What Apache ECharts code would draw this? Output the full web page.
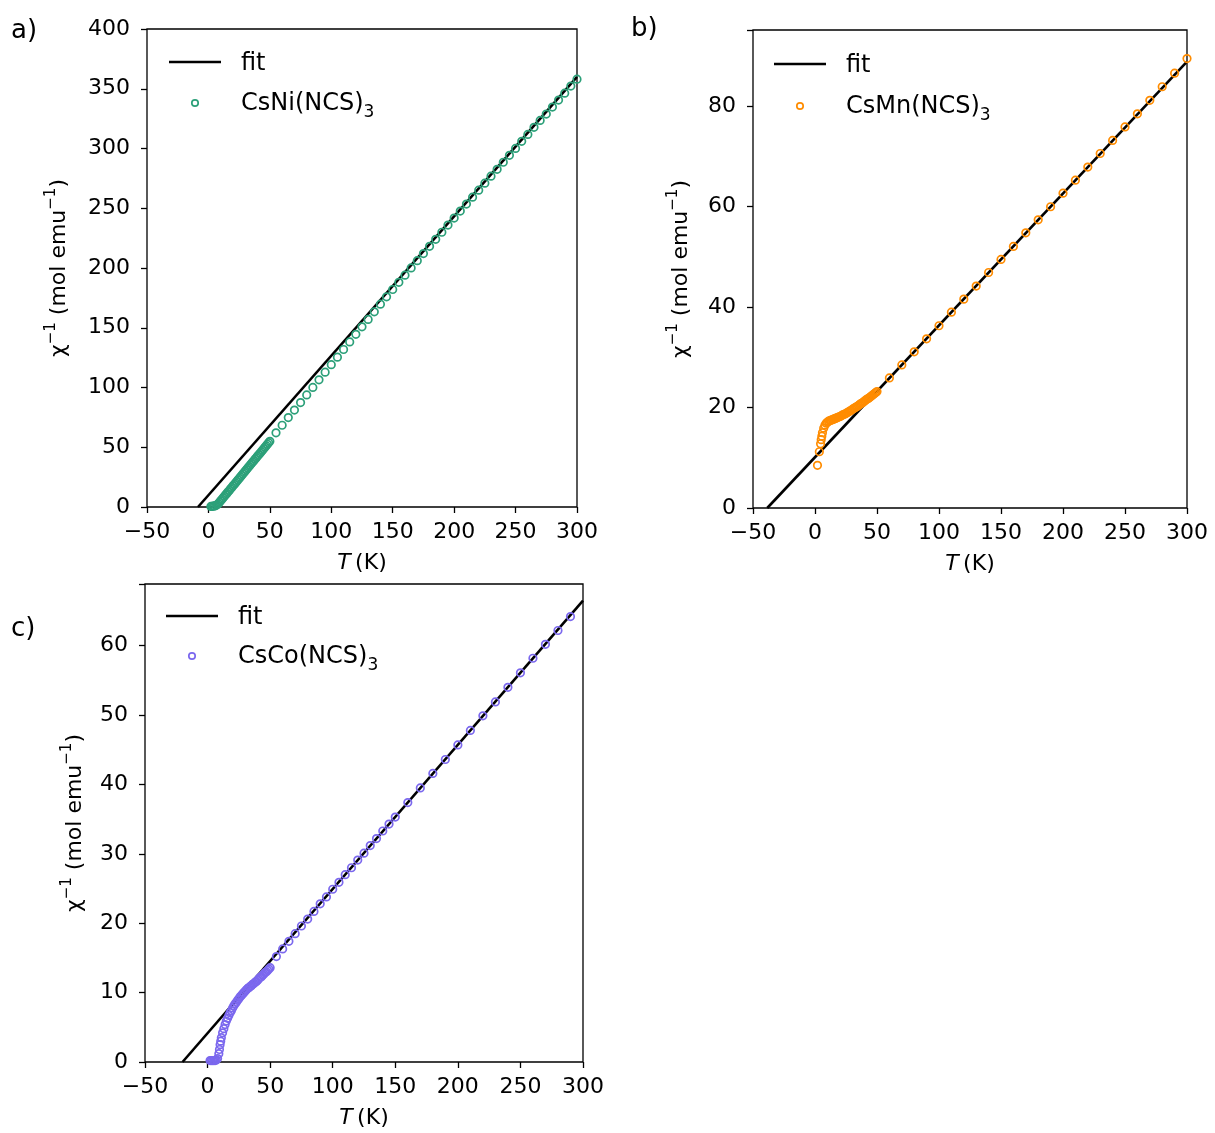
<!DOCTYPE html>
<html>
<head>
<meta charset="utf-8">
<script src="https://cdn.jsdelivr.net/npm/echarts@6/dist/echarts.min.js"></script>
<style>
  html, body { margin: 0; padding: 0; background: #fff; }
  #chart { width: 1215px; height: 1133px; }
</style>
</head>
<body>
<div id="chart"></div>
<script>
// CsNi(NCS)3 : inverse susceptibility, dense low-T part and 5 K steps above
var niLow = [[2,0.5],[3,0.6],[4,0.7],[5,0.9],[6,1.2],[7,1.8],[8,2.8],[9,4.0],[10,5.2],[11,6.4],[12,7.7],[13,8.9],[14,10.2],[15,11.4],[16,12.7],[17,13.9],[18,15.2],[19,16.4],[20,17.7],[21,18.9],[22,20.1],[23,21.4],[24,22.6],[25,23.9],[26,25.1],[27,26.4],[28,27.6],[29,28.9],[30,30.1],[31,31.3],[32,32.6],[33,33.8],[34,35.1],[35,36.3],[36,37.6],[37,38.8],[38,40.1],[39,41.3],[40,42.6],[41,43.8],[42,45.0],[43,46.3],[44,47.5],[45,48.8],[46,50.0],[47,51.3],[48,52.5],[49,53.8],[50,55.0]];
var niHigh = [[55,62.1],[60,68.4],[65,74.8],[70,81.1],[75,87.4],[80,93.8],[85,100.1],[90,106.4],[95,112.8],[100,119.1],[105,125.4],[110,131.8],[115,138.1],[120,144.5],[125,150.8],[130,157.0],[135,163.3],[140,169.7],[145,175.9],[150,182.0],[155,188.0],[160,194.0],[165,200.1],[170,206.1],[175,212.1],[180,218.1],[185,224.0],[190,229.9],[195,235.9],[200,241.8],[205,247.6],[210,253.5],[215,259.3],[220,265.1],[225,271.0],[230,276.8],[235,282.6],[240,288.5],[245,294.3],[250,300.1],[255,306.0],[260,311.8],[265,317.7],[270,323.5],[275,328.8],[280,334.7],[285,340.5],[290,346.3],[295,352.2],[300,358.0]];
var niFit = [[-8.5,0],[300,360]];

// CsMn(NCS)3
var mnLow = [[2,8.5],[3.5,11.2],[4.5,12.8],[5,13.6],[5.5,14.3],[6,15.0],[7,15.9],[8,16.5],[9,16.9],[10,17.1],[11,17.3],[12,17.4],[13,17.5],[14,17.6],[15,17.7],[16,17.8],[17,17.9],[18,18.0],[19,18.1],[20,18.2],[21,18.3],[22,18.5],[23,18.6],[24,18.7],[25,18.8],[26,19.0],[27,19.1],[28,19.3],[29,19.4],[30,19.6],[31,19.8],[32,19.9],[33,20.1],[34,20.2],[35,20.4],[36,20.6],[37,20.8],[38,20.9],[39,21.1],[40,21.3],[41,21.5],[42,21.7],[43,21.8],[44,22.0],[45,22.2],[46,22.4],[47,22.6],[48,22.8],[49,23.0],[50,23.2]];
var mnHigh = [[60,25.9],[70,28.5],[80,31.1],[90,33.7],[100,36.3],[110,39.0],[120,41.6],[130,44.2],[140,46.9],[150,49.5],[160,52.1],[170,54.8],[180,57.4],[190,60.0],[200,62.7],[210,65.3],[220,67.9],[230,70.6],[240,73.2],[250,75.9],[260,78.5],[270,81.2],[280,83.9],[290,86.6],[300,89.5]];
var mnFit = [[-38.5,0],[300,88.9]];

// CsCo(NCS)3
var coLow = [[2,0.2],[3,0.2],[4,0.2],[5,0.2],[6,0.2],[7,0.3],[8,0.5],[9,1.2],[9.5,1.8],[10,2.5],[10.5,3.0],[11,3.5],[12,4.2],[13,4.8],[14,5.4],[15,5.9],[16,6.3],[17,6.7],[18,7.1],[19,7.4],[20,7.8],[21,8.1],[22,8.4],[23,8.6],[24,8.9],[25,9.1],[26,9.4],[27,9.6],[28,9.8],[29,10.0],[30,10.2],[31,10.4],[32,10.6],[33,10.7],[34,10.9],[35,11.0],[36,11.2],[37,11.3],[38,11.5],[39,11.6],[40,11.8],[41,12.0],[42,12.2],[43,12.3],[44,12.5],[45,12.7],[46,12.9],[47,13.0],[48,13.2],[49,13.4],[50,13.6]];
var coHigh = [[55,15.2],[60,16.3],[65,17.4],[70,18.5],[75,19.6],[80,20.6],[85,21.7],[90,22.8],[95,23.8],[100,24.9],[105,25.9],[110,27.0],[115,28.0],[120,29.1],[125,30.1],[130,31.2],[135,32.2],[140,33.3],[145,34.3],[150,35.3],[160,37.4],[170,39.5],[180,41.6],[190,43.6],[200,45.7],[210,47.8],[220,49.9],[230,51.9],[240,54.0],[250,56.1],[260,58.2],[270,60.2],[280,62.2],[290,64.2]];
var coFit = [[-20,0],[300,66.5]];

var xTicks = [-50, 0, 50, 100, 150, 200, 250, 300];
var yMaxA = 400, yMaxB = 95.2, yMaxC = 68.9;
var yStepA = 50, yStepB = 20, yStepC = 10;

var green = '#2ca079', orange = '#ff8c00', purple = '#7b68ee';
var font = 'DejaVu Sans';

var fmtX = function(v){ return (v < 0 ? '\u2212' + (-v) : '' + v); };

var mkX = function(idx){
	return {
		gridIndex: idx, type: 'value', min: xTicks[0], max: xTicks[xTicks.length-1], interval: 50,
		name: '{i|T}{n|\u2009(K)}', nameLocation: 'middle', nameGap: 45,
		nameTextStyle: { fontFamily: font, fontSize: 22, color: '#000',
			rich: { i: { fontFamily: font, fontStyle: 'italic', fontSize: 22, color: '#000' },
				n: { fontFamily: font, fontSize: 22, color: '#000' } } },
		axisLine: { show: false, onZero: false },
		axisTick: { show: true, inside: false, length: 6, lineStyle: { color: '#000', width: 1.3 } },
		axisLabel: { fontFamily: font, fontSize: 22, color: '#000', margin: 14, formatter: fmtX },
		splitLine: { show: false }
	};
};
var supRich = {
	n: { fontFamily: font, fontSize: 22, color: '#000', lineHeight: 30 },
	s: { fontFamily: font, fontSize: 15, color: '#000', lineHeight: 18, verticalAlign: 'top' }
};
var mkY = function(idx, max, step, gap){
	return {
		gridIndex: idx, type: 'value', min: 0, max: max, interval: step,
		name: '{n|\u03c7}{s|\u22121}{n| (mol emu}{s|\u22121}{n|)}', nameLocation: 'middle', nameGap: gap,
		nameTextStyle: { fontFamily: font, fontSize: 22, color: '#000', rich: supRich },
		axisLine: { show: false, onZero: false },
		axisTick: { show: true, inside: false, length: 6, lineStyle: { color: '#000', width: 1.3 } },
		axisLabel: { fontFamily: font, fontSize: 22, color: '#000', margin: 17,
			formatter: function(v){ return (v % step === 0) ? '' + v : ''; } },
		splitLine: { show: false }
	};
};
var fitSeries = function(idx, data){
	return { type: 'line', xAxisIndex: idx, yAxisIndex: idx, data: data, symbol: 'none',
		lineStyle: { color: '#000', width: 2.6 }, z: 2, silent: true, animation: false };
};
var dotSeries = function(idx, data, col){
	return { type: 'scatter', xAxisIndex: idx, yAxisIndex: idx, data: data, symbol: 'circle', symbolSize: 7.5,
		itemStyle: { color: 'rgba(0,0,0,0)', borderColor: col, borderWidth: 1.7, opacity: 1 },
		z: 3, silent: true, animation: false };
};

// legend drawn like the matplotlib one
var subRich = {
	n: { fontFamily: font, fontSize: 24, fill: '#000', lineHeight: 34 },
	b: { fontFamily: font, fontSize: 17, fill: '#000', lineHeight: 17, verticalAlign: 'bottom' }
};
var legendAt = function(x0, yFit, yDat, name, col){
	return [
		{ type: 'line', shape: { x1: x0, y1: yFit, x2: x0 + 52, y2: yFit }, style: { stroke: '#000', lineWidth: 2.6 } },
		{ type: 'text', left: x0 + 72, top: yFit - 10, style: { text: 'fit', font: '24px "DejaVu Sans"', fill: '#000' } },
		{ type: 'circle', shape: { cx: x0 + 26, cy: yDat, r: 3.2 }, style: { fill: 'none', stroke: col, lineWidth: 1.7 } },
		{ type: 'text', left: x0 + 72, top: yDat - 11, style: { text: '{n|' + name + '}{b|3}', rich: subRich } }
	];
};

var dom = document.getElementById('chart');
var myChart = echarts.init(dom, null, { renderer: 'canvas' });
var option = {
	backgroundColor: '#fff',
	animation: false,
	grid: [
		{ left: 147, top: 29, width: 430, height: 478, show: true, borderColor: '#000', borderWidth: 1.3, backgroundColor: 'transparent' },
		{ left: 753, top: 30, width: 434, height: 478, show: true, borderColor: '#000', borderWidth: 1.3, backgroundColor: 'transparent' },
		{ left: 145, top: 584, width: 438, height: 478, show: true, borderColor: '#000', borderWidth: 1.3, backgroundColor: 'transparent' }
	],
	xAxis: [ mkX(0), mkX(1), mkX(2) ],
	yAxis: [ mkY(0, yMaxA, yStepA, 73), mkY(1, yMaxB, yStepB, 57), mkY(2, yMaxC, yStepC, 55) ],
	series: [
		fitSeries(0, niFit), dotSeries(0, niLow.concat(niHigh), green),
		fitSeries(1, mnFit), dotSeries(1, mnLow.concat(mnHigh), orange),
		fitSeries(2, coFit), dotSeries(2, coLow.concat(coHigh), purple)
	],
	graphic: [
		{ type: 'text', left: 11, top: 18, style: { text: 'a)', font: '26px "DejaVu Sans"', fill: '#000' } },
		{ type: 'text', left: 631, top: 16, style: { text: 'b)', font: '26px "DejaVu Sans"', fill: '#000' } },
		{ type: 'text', left: 11, top: 616, style: { text: 'c)', font: '26px "DejaVu Sans"', fill: '#000' } }
	].concat(legendAt(169, 62, 103, 'CsNi(NCS)', green))
	 .concat(legendAt(774, 64, 106, 'CsMn(NCS)', orange))
	 .concat(legendAt(166, 616, 656, 'CsCo(NCS)', purple))
};
myChart.setOption(option);
window.addEventListener('resize', function(){ myChart.resize(); });
</script>
</body>
</html>
